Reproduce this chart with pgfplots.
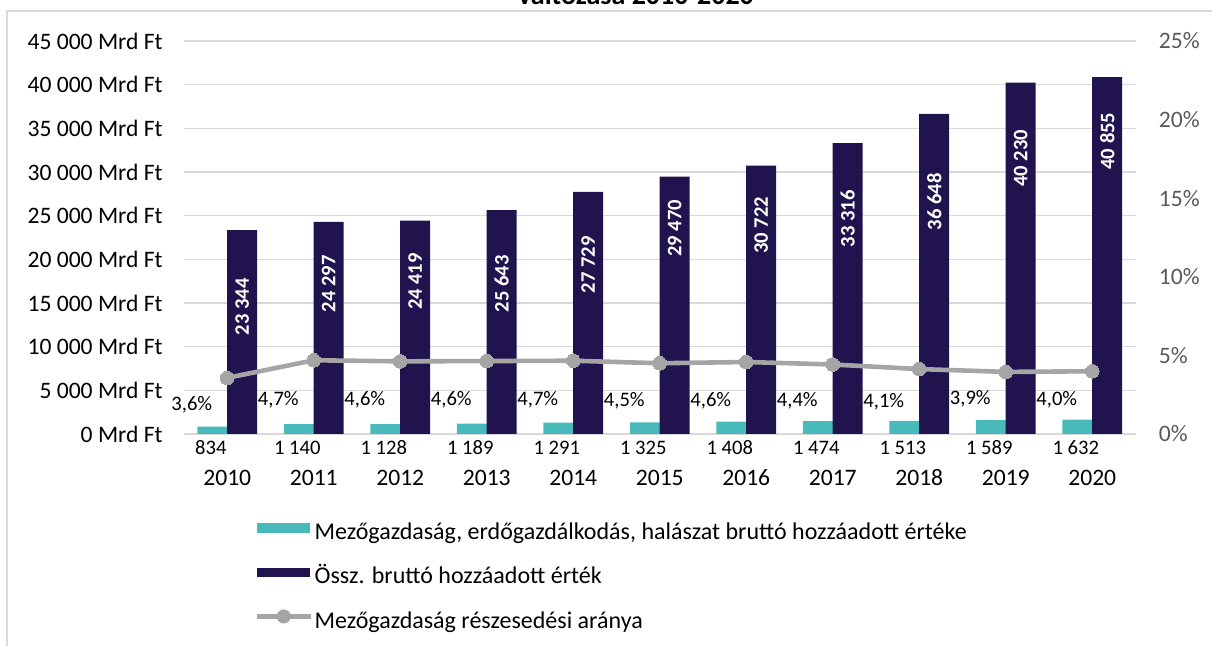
\documentclass[border=0pt]{standalone}
\usepackage{fontspec}
\setmainfont{Carlito}
\usepackage{pgfplots}
\usepackage{pgfplotstable}
\pgfplotsset{compat=1.18}

\definecolor{agr}{HTML}{48BABC}
\definecolor{gva}{HTML}{21134D}
\definecolor{share}{HTML}{A5A5A5}
\definecolor{gridc}{HTML}{D9D9D9}
\definecolor{ticktxt}{HTML}{595959}

\pgfkeys{/pgf/number format/.cd, 1000 sep={\ }, assume math mode=true}

% x: category index, agr/total: Mrd Ft, share: %, lab: printed share,
% ly: height of the share label (right axis), off: label gap below bar top (pt)
\pgfplotstableread{
x year agr total share lab ly off
0 2010 834 23344 3.57 3.6 1.85 24
1 2011 1140 24297 4.69 4.7 2.16 16.5
2 2012 1128 24419 4.62 4.6 2.16 16
3 2013 1189 25643 4.64 4.6 2.16 22.5
4 2014 1291 27729 4.66 4.7 2.16 22
5 2015 1325 29470 4.50 4.5 2.10 11.5
6 2016 1408 30722 4.58 4.6 2.10 15.5
7 2017 1474 33316 4.42 4.4 2.10 23.5
8 2018 1513 36648 4.13 4.1 2.05 29.5
9 2019 1589 40230 3.95 3.9 2.25 23.5
10 2020 1632 40855 3.99 4.0 2.20 17.5
}\datatab

\pgfplotsset{
  base/.style={
    at={(0,0)}, anchor=south west, scale only axis,
    width=475.75pt, height=196.5pt,
    xmin=-0.5, xmax=10.5, clip=false,
    axis line style={draw=none}, tick style={draw=none}, major tick length=0pt,
    tick label style={font=\fontsize{11.8}{14}\selectfont},
  },
}

\begin{document}
\begin{tikzpicture}
\useasboundingbox (-92pt,-106pt) rectangle (514pt,217pt);
\draw[gridc, line width=0.75pt] (530pt,211.5pt) -- (-88.5pt,211.5pt) -- (-88.5pt,-120pt);
\node[font=\bfseries\fontsize{14}{17}\selectfont, anchor=base] at (226pt,214.5pt) {változása 2010-2020};

\begin{axis}[base,
  ymin=0, ymax=45000,
  xtick={0,...,10},
  xticklabels={2010,2011,2012,2013,2014,2015,2016,2017,2018,2019,2020},
  xticklabel style={inner sep=0pt, anchor=center, yshift=-22pt},
  ytick={0,5000,...,45000}, scaled y ticks=false,
  yticklabel={\pgfmathprintnumber{\tick}\ Mrd Ft},
  yticklabel style={inner sep=0pt, xshift=-10.5pt},
  ymajorgrids, grid style={gridc, line width=0.75pt},
  legend style={at={(0.074,-0.219)}, anchor=north west, draw=none, fill=none,
    inner sep=0pt, outer sep=0pt, row sep=8.5pt,
    font=\fontsize{12}{14}\selectfont,
    nodes={inner sep=0.8pt, text height=9pt, text depth=3pt}},
  legend cell align=left,
]
\addplot[ybar, bar width=0.347, bar shift=-0.173, fill=agr, draw=none,
  legend image code/.code={\fill[agr] (0pt,0.5pt) rectangle (26.5pt,5.1pt);}]
  table[x=x, y=agr] {\datatab};
\addlegendentry{Mezőgazdaság, erdőgazdálkodás, halászat bruttó hozzáadott értéke}
\addplot[ybar, bar width=0.347, bar shift=0.173, fill=gva, draw=none,
  legend image code/.code={\fill[gva] (0pt,0.5pt) rectangle (26.5pt,5.1pt);}]
  table[x=x, y=total] {\datatab};
\addlegendentry{Össz. bruttó hozzáadott érték}
\addlegendimage{legend image code/.code={
  \draw[share, line width=2.3pt] (0pt,2.8pt) -- (27pt,2.8pt);
  \fill[share] (13.5pt,2.8pt) circle (3.3pt);}}
\addlegendentry{Mezőgazdaság részesedési aránya}
% value labels of the agriculture bars, under the axis
\addplot[draw=none, forget plot, point meta=explicit,
  nodes near coords={\pgfmathprintnumber{\pgfplotspointmeta}},
  every node near coord/.style={anchor=center, inner sep=0pt, yshift=-7pt,
    font=\fontsize{10.3}{12}\selectfont}]
  table[x expr=\thisrow{x}-0.19, y expr=0, meta=agr] {\datatab};
% value labels inside the total bars
\addplot[draw=none, forget plot, point meta=explicit,
  visualization depends on={\thisrow{off} \as \myoff},
  nodes near coords={\pgfmathprintnumber{\pgfplotspointmeta}},
  every node near coord/.style={yshift=-\myoff pt, rotate=90, anchor=east,
    inner sep=0pt, text=white, font=\bfseries\fontsize{10.3}{12}\selectfont}]
  table[x expr=\thisrow{x}+0.173, y=total, meta=total] {\datatab};
\end{axis}

\begin{axis}[base,
  ymin=0, ymax=25,
  axis y line*=right, axis x line=none,
  ytick={0,5,...,25},
  yticklabel={\pgfmathprintnumber{\tick}\%},
  yticklabel style={inner sep=0pt, xshift=11.5pt, text=ticktxt},
]
\addplot[share, line width=2.3pt, mark=*, mark size=3.4pt,
  mark options={solid, fill=share, draw=share, line width=0pt}]
  table[x=x, y=share] {\datatab};
\addplot[draw=none, point meta=explicit,
  nodes near coords={\pgfmathprintnumber[fixed, fixed zerofill, precision=1, dec sep={,}]{\pgfplotspointmeta}\%},
  every node near coord/.style={anchor=center, inner sep=0pt,
    font=\fontsize{10.3}{12}\selectfont}]
  table[x expr=\thisrow{x}-0.41, y=ly, meta=lab] {\datatab};
\end{axis}
\end{tikzpicture}
\end{document}
